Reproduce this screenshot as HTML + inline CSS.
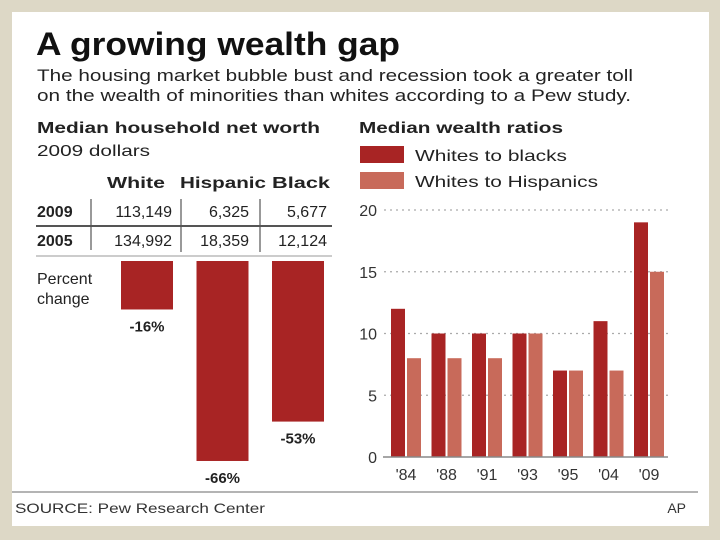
<!DOCTYPE html>
<html><head><meta charset="utf-8"><style>
html,body{margin:0;padding:0;background:#ddd8c6;}
svg{display:block;font-family:"Liberation Sans",Arial,sans-serif;}
</style></head><body>
<svg id="c" width="720" height="540" viewBox="0 0 720 540">
<rect x="12" y="12" width="697" height="514" fill="#ffffff"/>
<text x="36" y="55" font-size="32" font-weight="bold" fill="#111" textLength="364" lengthAdjust="spacingAndGlyphs">A growing wealth gap</text>
<text x="37" y="81" font-size="17" fill="#222" textLength="596" lengthAdjust="spacingAndGlyphs">The housing market bubble bust and recession took a greater toll</text>
<text x="37" y="101" font-size="17" fill="#222" textLength="594" lengthAdjust="spacingAndGlyphs">on the wealth of minorities than whites according to a Pew study.</text>
<text x="37" y="133" font-size="16" font-weight="bold" fill="#222" textLength="283" lengthAdjust="spacingAndGlyphs">Median household net worth</text>
<text x="37" y="156" font-size="16" fill="#222" textLength="113" lengthAdjust="spacingAndGlyphs">2009 dollars</text>
<text x="359" y="133" font-size="16" font-weight="bold" fill="#222" textLength="204" lengthAdjust="spacingAndGlyphs">Median wealth ratios</text>
<rect x="360" y="146" width="44" height="17" fill="#a82424"/>
<text x="415" y="161" font-size="16" fill="#222" textLength="152" lengthAdjust="spacingAndGlyphs">Whites to blacks</text>
<rect x="360" y="172" width="44" height="17" fill="#c86a5a"/>
<text x="415" y="187" font-size="16" fill="#222" textLength="183" lengthAdjust="spacingAndGlyphs">Whites to Hispanics</text>
<g font-size="16" fill="#222">
<text x="107" y="188" font-weight="bold" textLength="58" lengthAdjust="spacingAndGlyphs">White</text>
<text x="180" y="188" font-weight="bold" textLength="86" lengthAdjust="spacingAndGlyphs">Hispanic</text>
<text x="272" y="188" font-weight="bold" textLength="58" lengthAdjust="spacingAndGlyphs">Black</text>
<text x="37" y="217" font-weight="bold">2009</text>
<text x="37" y="246" font-weight="bold">2005</text>
<text x="172" y="217" text-anchor="end">113,149</text>
<text x="249" y="217" text-anchor="end">6,325</text>
<text x="327" y="217" text-anchor="end">5,677</text>
<text x="172" y="246" text-anchor="end">134,992</text>
<text x="249" y="246" text-anchor="end">18,359</text>
<text x="327" y="246" text-anchor="end">12,124</text>
<line x1="36" y1="226" x2="332" y2="226" stroke="#555" stroke-width="2"/>
<line x1="36" y1="256" x2="332" y2="256" stroke="#bbb" stroke-width="1.5"/>
<line x1="91" y1="199" x2="91" y2="250" stroke="#555" stroke-width="1.2"/>
<line x1="181" y1="199" x2="181" y2="252" stroke="#555" stroke-width="1.2"/>
<line x1="260" y1="199" x2="260" y2="252" stroke="#555" stroke-width="1.2"/>
</g>
<text x="37" y="284" font-size="16" fill="#222">Percent</text>
<text x="37" y="304" font-size="16" fill="#222">change</text>
<g id="left"></g>
<g id="right"></g>
<line x1="12" y1="492" x2="698" y2="492" stroke="#888" stroke-width="1.2"/>
<text x="15" y="513" font-size="14" fill="#333" textLength="250" lengthAdjust="spacingAndGlyphs">SOURCE: Pew Research Center</text>
<text x="686" y="513" font-size="14" fill="#333" text-anchor="end">AP</text>
</svg>
<script>
const pctGroups = ["White","Hispanic","Black"];
const pctValues = [-16,-66,-53];
const years = ["'84","'88","'91","'93","'95","'04","'09"];
const blacksRatio = [12,10,10,10,7,11,19];
const hispRatio = [8,8,8,10,7,7,15];
const yTicks = [0,5,10,15,20];

const NS="http://www.w3.org/2000/svg";
function mk(tag,attrs,parent){const e=document.createElementNS(NS,tag);for(const k in attrs)e.setAttribute(k,attrs[k]);parent.appendChild(e);return e;}

const L=document.getElementById('left');
const pTop=261, pScale=3.03;
const pX=i=>121+i*75.5;
pctValues.forEach((v,i)=>{
  const h=-v*pScale;
  const r=mk('rect',{x:pX(i),y:pTop,width:52,height:h,fill:'#a82424'},L);
  
  
  const t=mk('text',{x:pX(i)+26,y:pTop+h+22,'font-size':15,'font-weight':'bold','text-anchor':'middle',fill:'#222'},L);
  t.textContent=v+'%';
  
  
});

const R=document.getElementById('right');
const y0=457, yU=12.35;
const yS=v=>y0-v*yU;
const gX=i=>391+i*40.5;
yTicks.forEach(t=>{
  if(t>0){const g=mk('line',{x1:384,x2:668,y1:yS(t),y2:yS(t),stroke:'#aaa','stroke-width':1.2,'stroke-dasharray':'2 4'},R);
  
  }
  const tx=mk('text',{x:377,y:yS(t)+6,'font-size':16,'text-anchor':'end',fill:'#333'},R);
  tx.textContent=t;
  
  
});
years.forEach((yr,i)=>{
  const b=mk('rect',{x:gX(i),y:yS(blacksRatio[i]),width:14,height:blacksRatio[i]*yU,fill:'#a82424'},R);
  
  
  const h=mk('rect',{x:gX(i)+16,y:yS(hispRatio[i]),width:14,height:hispRatio[i]*yU,fill:'#c86a5a'},R);
  
  
  const t=mk('text',{x:gX(i)+15,y:480,'font-size':16,'text-anchor':'middle',fill:'#333'},R);
  t.textContent=yr;
  
  
});
const ax=mk('line',{x1:383,x2:668,y1:y0,y2:y0,stroke:'#888','stroke-width':1.5},R);


</script>
</body></html>
